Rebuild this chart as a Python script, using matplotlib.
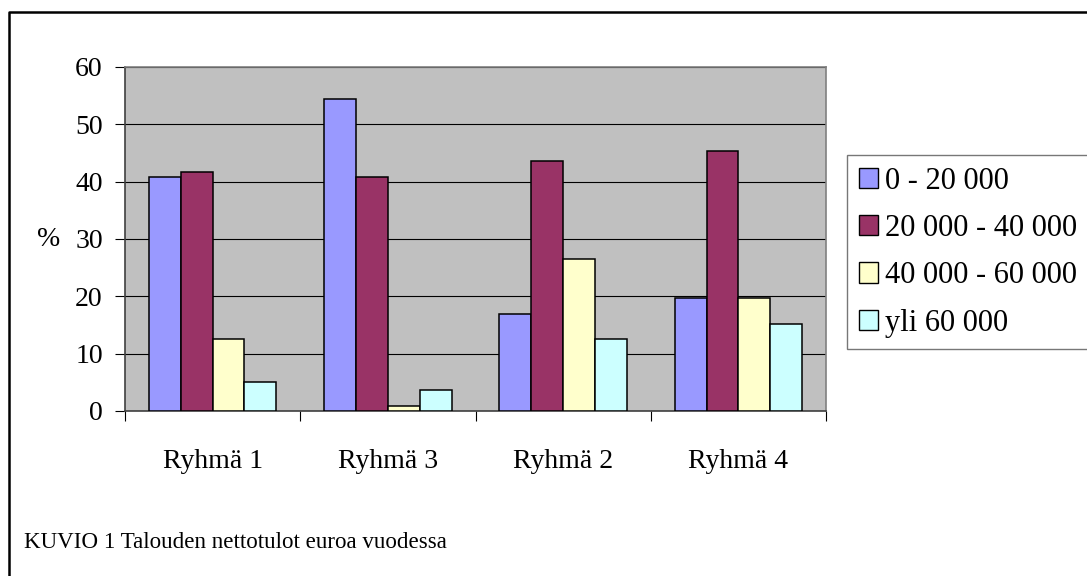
import numpy as np
import matplotlib
matplotlib.use('Agg')
import matplotlib.pyplot as plt
from matplotlib.lines import Line2D

GROUPS = ['Ryhmä 1', 'Ryhmä 3', 'Ryhmä 2', 'Ryhmä 4']
SERIES = ['0 - 20 000', '20 000 - 40 000', '40 000 - 60 000', 'yli 60 000']
VALUES_0_20 = [40.9, 54.5, 16.9, 19.7]
VALUES_20_40 = [41.6, 40.9, 43.6, 45.3]
VALUES_40_60 = [12.5, 0.9, 26.5, 19.7]
VALUES_OVER_60 = [5.0, 3.6, 12.5, 15.2]
COLORS = ['#9999FF', '#993366', '#FFFFCC', '#CCFFFF']
CAPTION = 'KUVIO 1 Talouden nettotulot euroa vuodessa'

plt.rcParams['font.family'] = ['Liberation Serif', 'DejaVu Serif']
FS = 20

fig = plt.figure(figsize=(10.87, 5.76), dpi=100)
ax = fig.add_axes([125 / 1087, 1 - 411 / 576, 701 / 1087, 344 / 576])
ax.set_facecolor('#C0C0C0')

x = np.arange(len(GROUPS))
width = 1 / 5.5
all_values = [VALUES_0_20, VALUES_20_40, VALUES_40_60, VALUES_OVER_60]
for i, vals in enumerate(all_values):
    ax.bar(x + (i - 1.5) * width, vals, width, color=COLORS[i],
           edgecolor='black', linewidth=1.1, label=SERIES[i], zorder=3)

ax.set_xlim(-0.5, len(GROUPS) - 0.5)
ax.set_ylim(0, 60)
ax.set_yticks(range(0, 61, 10))
ax.yaxis.grid(True, color='black', linewidth=0.8, zorder=1)
ax.set_axisbelow(True)

ax.set_xticks(x)
ax.set_xticklabels(GROUPS)
ax.set_xticks(np.arange(-0.5, len(GROUPS), 1.0), minor=True)
ax.tick_params(axis='x', which='major', length=0, pad=27, labelsize=FS)
ax.tick_params(axis='x', which='minor', length=7, width=0.8, direction='out')
ax.tick_params(axis='y', length=7, width=0.8, direction='out', pad=9, labelsize=FS)

ax.spines['top'].set_color('#808080')
ax.spines['right'].set_color('#808080')
ax.spines['left'].set_color('#404040')
ax.spines['bottom'].set_color('#404040')
for s in ax.spines.values():
    s.set_linewidth(1.2)

ax.set_ylabel('%', rotation=0, fontsize=FS, ha='left', va='center')
ax.yaxis.set_label_coords(-0.1255, 0.5)

leg = fig.legend(loc='upper left', bbox_to_anchor=(847 / 1087, 1 - 155 / 576),
                 fontsize=22, frameon=True, fancybox=False, shadow=False,
                 handlelength=0.65, handleheight=0.65, handletextpad=0.2,
                 labelspacing=0.6, borderpad=0.38, borderaxespad=0)
leg.get_frame().set_edgecolor('#555555')
leg.get_frame().set_linewidth(1.0)
for h in leg.legend_handles:
    h.set_linewidth(1.0)

fig.text(24 / 1087, 1 - 548 / 576, CAPTION, fontsize=16.6, ha='left', va='baseline')

# chart area border (only top and left visible)
bx, by = 9 / 1087, 1 - 12 / 576
fig.add_artist(Line2D([bx, bx, 1.0], [0.0, by, by], transform=fig.transFigure,
                      color='black', linewidth=1.8))

fig.savefig('out.png', dpi=100)
